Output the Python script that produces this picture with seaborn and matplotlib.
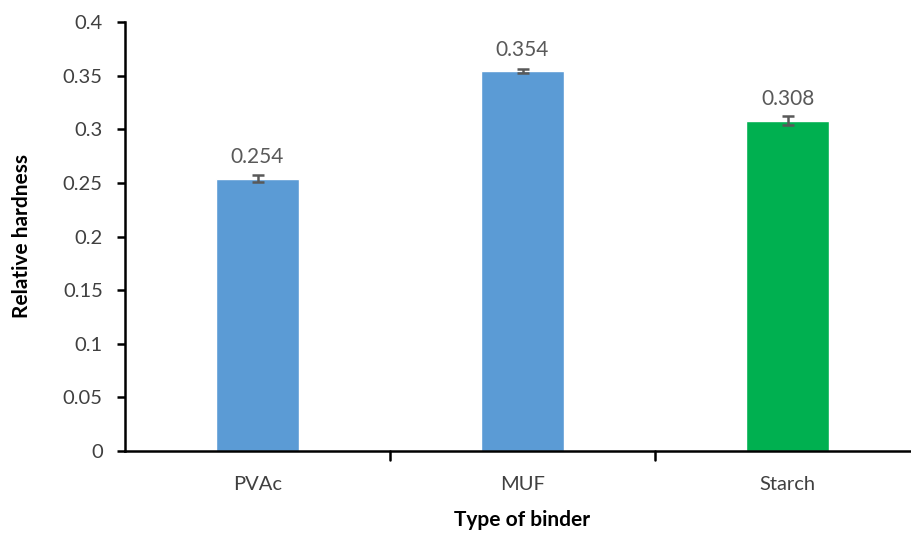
import matplotlib
matplotlib.use("Agg")
import matplotlib.pyplot as plt
import seaborn as sns
import pandas as pd

categories = ["PVAc", "MUF", "Starch"]
values = [0.254, 0.354, 0.308]
errors = [0.003, 0.002, 0.004]
colors = ["#5B9BD5", "#5B9BD5", "#00B050"]

sns.set_theme(style="white")
plt.rcParams['font.family'] = ['Lato', 'DejaVu Sans']

df = pd.DataFrame({"binder": categories, "hardness": values})

fig = plt.figure(figsize=(9.11, 5.36), dpi=100)
ax = fig.add_axes([125/911, 85/536, 795/911, 429/536])

sns.barplot(data=df, x="binder", y="hardness", hue="binder", palette=colors,
            width=0.31, errorbar=None, legend=False, ax=ax, saturation=1)
ax.errorbar(range(len(categories)), values, yerr=errors, fmt="none",
            ecolor="#595959", elinewidth=1.8, capsize=4, capthick=1.8, zorder=5)

for i, v in enumerate(values):
    ax.text(i, v + 0.011, f"{v:.3f}", ha="center", va="bottom", fontsize=15, color="#595959")

ax.set_xlim(-0.5, 2.5)
ax.set_ylim(0, 0.4)
ax.set_yticks([0, 0.05, 0.1, 0.15, 0.2, 0.25, 0.3, 0.35, 0.4])
ax.set_yticklabels(["0", "0.05", "0.1", "0.15", "0.2", "0.25", "0.3", "0.35", "0.4"])
ax.set_xticks([0, 1, 2])
ax.set_xticklabels(categories)
ax.tick_params(axis="x", length=0, pad=18, labelsize=14.5, labelcolor="#404040")
ax.tick_params(axis="y", left=True, length=6, width=1.8, color="black", direction="out",
               labelsize=14.5, labelcolor="#404040", pad=10)
for x in [0.5, 1.5]:
    ax.plot([x, x], [0, -0.008], color="black", lw=1.8, clip_on=False)

for s in ["top", "right"]:
    ax.spines[s].set_visible(False)
for s in ["left", "bottom"]:
    ax.spines[s].set_color("black")
    ax.spines[s].set_linewidth(1.8)

ax.set_xlabel("Type of binder", fontsize=15, fontweight="bold", color="black", labelpad=12)
ax.set_ylabel("Relative hardness", fontsize=15, fontweight="bold", color="black", labelpad=22)

fig.savefig("out.png", dpi=100)
